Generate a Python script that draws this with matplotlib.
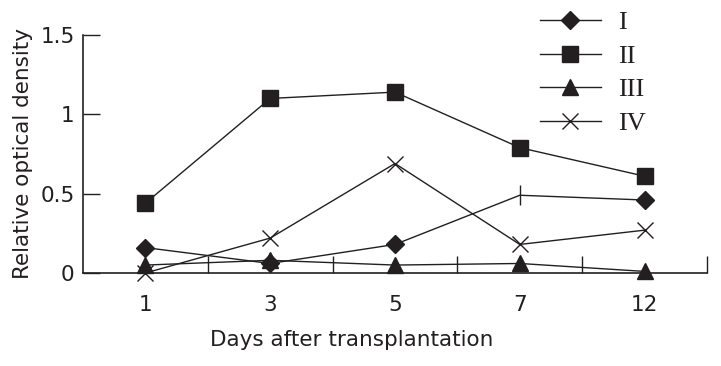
import numpy as np
import matplotlib
matplotlib.use("Agg")
import matplotlib.pyplot as plt

days = ["1", "3", "5", "7", "12"]
series_names = ["I", "II", "III", "IV"]
vals_I = [0.16, 0.06, 0.18, 0.49, 0.46]
vals_II = [0.44, 1.10, 1.14, 0.79, 0.61]
vals_III = [0.05, 0.08, 0.05, 0.06, 0.01]
vals_IV = [0.00, 0.22, 0.69, 0.18, 0.27]

ink = "#231f20"
x = np.arange(len(days))

fig = plt.figure(figsize=(7.21, 3.66), dpi=100)
ax = fig.add_axes([0.1151, 0.2541, 0.8655, 0.6503])

# series I has a bare tick instead of a diamond on day 7
ax.plot(x, vals_I, color=ink, lw=1, marker="D", ms=9, markevery=[0, 1, 2, 4],
        label=series_names[0], clip_on=False)
ax.plot(x[3], vals_I[3], color=ink, marker="|", ms=14, mew=1, ls="none", clip_on=False)
ax.plot(x, vals_II, color=ink, lw=1, marker="s", ms=11, label=series_names[1], clip_on=False)
ax.plot(x, vals_III, color=ink, lw=1, marker="^", ms=11, label=series_names[2], clip_on=False)
ax.plot(x, vals_IV, color=ink, lw=1, marker="x", ms=11, mew=1, label=series_names[3],
        clip_on=False)

ax.set_xlim(-0.5, 4.5)
ax.set_ylim(0, 1.5)
ax.set_xticks(x)
ax.set_xticklabels(days)
ax.set_xticks(np.arange(0.5, 5, 1), minor=True)
ax.set_yticks([0, 0.5, 1, 1.5])
ax.set_yticklabels(["0", "0.5", "1", "1.5"])

ax.tick_params(axis="x", which="major", length=0, labelsize=15.5, pad=16, colors=ink)
ax.tick_params(axis="x", which="minor", direction="in", length=12, width=1, color=ink)
ax.tick_params(axis="y", direction="in", length=12, width=1, labelsize=15.5, pad=6, colors=ink)

for s in ["top", "right"]:
    ax.spines[s].set_visible(False)
for s in ["left", "bottom"]:
    ax.spines[s].set_linewidth(1.2)
    ax.spines[s].set_color(ink)

ax.set_xlabel("Days after transplantation", fontsize=15.5, color=ink, labelpad=7)
ax.xaxis.set_label_coords(0.431, -0.24)
ax.set_ylabel("Relative optical density", fontsize=15.5, color=ink, labelpad=5)

leg = ax.legend(loc="upper left", bbox_to_anchor=(540 / 721, 1 - 11 / 366),
                bbox_transform=fig.transFigure, frameon=False,
                borderpad=0, borderaxespad=0,
                handlelength=2.31, handletextpad=0.64, labelspacing=0.38,
                prop={"family": "Liberation Serif", "size": 19})
for t in leg.get_texts():
    t.set_color(ink)

fig.savefig("out.png", dpi=100)
